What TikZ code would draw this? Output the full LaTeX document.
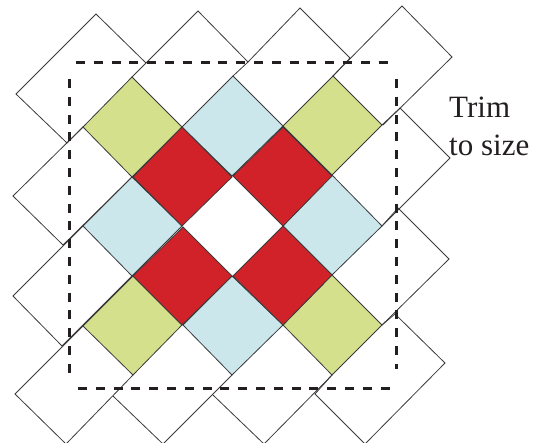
\documentclass[tikz,border=0pt]{standalone}
\usepackage{fontspec}
\setmainfont{Liberation Serif}
\definecolor{quiltred}{HTML}{D12229}
\definecolor{quiltblue}{HTML}{CBE7EC}
\definecolor{quiltgreen}{HTML}{D5E08C}
\definecolor{quiltline}{HTML}{3A3A3C}
\definecolor{quilttext}{HTML}{231F20}
\begin{document}
\begin{tikzpicture}[
	x=1pt, y=-1pt,
	w/.style = {draw=quiltline, line width=0.8pt, line join=miter},
	r/.style = {draw=quiltline, line width=0.8pt, fill=quiltred},
	b/.style = {draw=quiltline, line width=0.8pt, fill=quiltblue},
	g/.style = {draw=quiltline, line width=0.8pt, fill=quiltgreen},
	trim/.style = {draw=quilttext, line width=3pt, dash pattern=on 9pt off 8.8pt},
	lbl/.style = {anchor=base west, inner sep=0pt, text=quilttext, font=\fontsize{31}{38}\selectfont}
	]
	\useasboundingbox (0, 0) rectangle (540, 442);
	
	% ===== ===== ===== ===== =====
	
	% Setting triangles, top
	\draw[w]	(83, 127) -- (67, 143) -- (16, 94) -- (96, 14) -- (146, 63) -- (132, 77);
	\draw[w]	(146, 63) -- (198, 11) -- (248, 62) -- (233, 76);
	\draw[w]	(248, 62) -- (300, 8) -- (350, 58) -- (333, 76);
	\draw[w]	(333, 76) -- (402, 6) -- (452, 57) -- (383, 125);
	
	% Setting triangles, right
	\draw[w]	(382, 125) -- (400, 108) -- (450, 158) -- (382, 226);
	\draw[w]	(382, 226) -- (398, 208) -- (449, 259) -- (382, 325);
	\draw[w]	(382, 325) -- (395, 314) -- (445, 363) -- (365, 444) -- (315, 394) -- (332, 375);
	
	% Setting triangles, bottom
	\draw[w]	(83, 326) -- (15, 394) -- (66, 444) -- (133, 375);
	\draw[w]	(113, 396) -- (163, 444) -- (232, 375);
	\draw[w]	(213, 395) -- (264, 444) -- (332, 375);
	
	% Setting triangles, left
	\draw[w]	(83, 127) -- (13, 196) -- (63, 245) -- (132, 177);
	\draw[w]	(83, 226) -- (13, 296) -- (62, 346) -- (132, 276);
	
	% ===== ===== ===== ===== =====
	
	% Green
	\draw[g]	(132, 77) -- (182, 127) -- (132, 177) -- (83, 127) -- cycle;
	\draw[g]	(333, 76) -- (382, 125) -- (332, 175) -- (283, 126) -- cycle;
	\draw[g]	(133, 276) -- (182, 325) -- (133, 375) -- (83, 326) -- cycle;
	\draw[g]	(332, 275) -- (382, 325) -- (332, 375) -- (283, 325) -- cycle;
	
	% Blue
	\draw[b]	(233, 76) -- (283, 126) -- (232, 176) -- (182, 127) -- cycle;
	\draw[b]	(132, 177) -- (182, 226) -- (132, 276) -- (83, 226) -- cycle;
	\draw[b]	(332, 175) -- (382, 226) -- (332, 275) -- (283, 226) -- cycle;
	\draw[b]	(232, 276) -- (283, 325) -- (232, 375) -- (183, 325) -- cycle;
	
	% Red
	\draw[r]	(182, 127) -- (232, 177) -- (182, 226) -- (133, 177) -- cycle;
	\draw[r]	(283, 127) -- (332, 176) -- (283, 226) -- (233, 176) -- cycle;
	\draw[r]	(183, 227) -- (232, 276) -- (182, 325) -- (133, 276) -- cycle;
	\draw[r]	(283, 226) -- (332, 275) -- (283, 325) -- (233, 276) -- cycle;
	
	% ===== ===== ===== ===== =====
	
	% Trim line
	\draw[trim]	(76, 62) -- (390, 62);
	\draw[trim]	(396, 79) -- (396, 369);
	\draw[trim]	(78, 388) -- (392, 388);
	\draw[trim]	(69, 79) -- (69, 374);
	
	% Label
	\node[lbl]	(trimlabel)	at	(449, 117)	{Trim};
	\node[lbl]	(sizelabel)	at	(449, 155)	{to size};
	
\end{tikzpicture}
\end{document}
